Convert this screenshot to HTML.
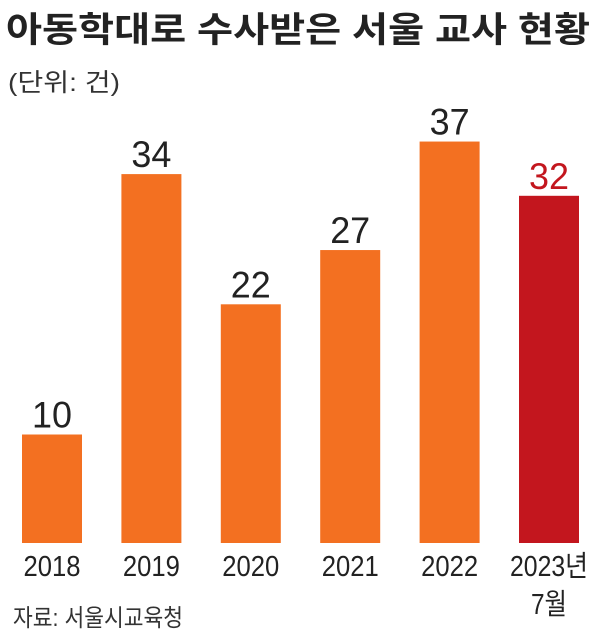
<!DOCTYPE html>
<html><head><meta charset="utf-8">
<style>
html,body{margin:0;padding:0;background:#fff;}
svg{display:block;font-family:"Liberation Sans","Noto Sans CJK KR",sans-serif;}
</style></head>
<body>
<svg id="chart" width="600" height="635" viewBox="0 0 600 635">
<text x="6" y="42" font-size="35" font-weight="bold" fill="#222" textLength="584" lengthAdjust="spacingAndGlyphs">아동학대로 수사받은 서울 교사 현황</text>
<text x="8" y="91" font-size="25" fill="#333" textLength="112" lengthAdjust="spacingAndGlyphs">(단위: 건)</text>
<g id="bars"></g>
<text x="13" y="626" font-size="24" fill="#333" textLength="170" lengthAdjust="spacingAndGlyphs">자료: 서울시교육청</text>
</svg>
<script>
const categories = ["2018","2019","2020","2021","2022","2023년"];
const values = [10,34,22,27,37,32];
const valueLabels = ["10","34","22","27","37","32"];
const highlight = [false,false,false,false,false,true];

const ns = "http://www.w3.org/2000/svg";
const baseY = 543, unit = 10.85, x0 = 22, step = 99.4, bw = 60;
const yPos = v => baseY - v * unit;
const xPos = i => x0 + i * step;
const g = document.getElementById('bars');
function mk(tag, attrs, txt){
  const e = document.createElementNS(ns, tag);
  for (const k in attrs) e.setAttribute(k, attrs[k]);
  if (txt !== undefined) e.textContent = txt;
  g.appendChild(e);
  return e;
}
categories.forEach((c, i) => {
  const v = values[i];
  const color = highlight[i] ? "#c3161e" : "#f37021";
  const r = mk('rect', {x: xPos(i), y: yPos(v), width: bw, height: baseY - yPos(v), fill: color});
  
  
  const cx = xPos(i) + bw / 2;
  const vl = mk('text', {x: cx, y: yPos(v) - 7, 'font-size': 37, 'text-anchor': 'middle', fill: highlight[i] ? "#c3161e" : "#222", textLength: 40, lengthAdjust: 'spacingAndGlyphs'}, valueLabels[i]);
  
  
  const isLast = c.endsWith('년');
  const xl = mk('text', {x: cx, y: 576, 'font-size': 29, 'text-anchor': 'middle', fill: '#222', textLength: isLast ? 78 : 57, lengthAdjust: 'spacingAndGlyphs'}, c);
  
  
  if (isLast) {
    const m = mk('text', {x: cx, y: 614, 'font-size': 29, 'text-anchor': 'middle', fill: '#222', textLength: 36, lengthAdjust: 'spacingAndGlyphs'}, '7월');
    
    
  }
});
</script>
</body></html>
